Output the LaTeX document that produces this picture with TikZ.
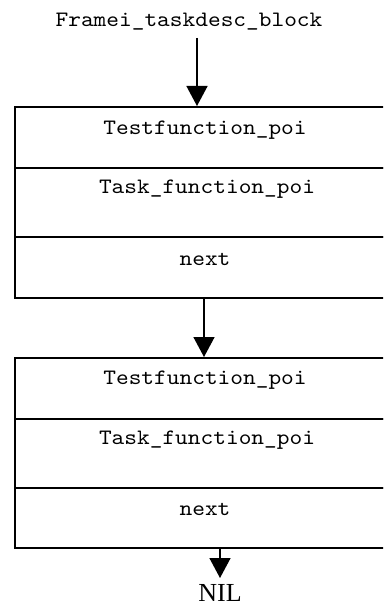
\documentclass[tikz,border=0pt]{standalone}
\usepackage{fontspec}
\setmainfont{Liberation Serif}
\newfontfamily\monofont{lmmono10-regular.otf}[FakeStretch=1.1]
\usetikzlibrary{arrows.meta}
\tikzset{
  cell/.style={draw, line width=1.6pt, minimum width=386pt, inner sep=0pt, anchor=north west},
  lbl/.style={font=\monofont\fontsize{22}{26}\selectfont, inner sep=0pt},
  arr/.style={line width=1.5pt, -{Triangle[length=20pt,width=21pt]}}
}
\begin{document}
\begin{tikzpicture}[x=1pt,y=-1pt]
\useasboundingbox (0,0) rectangle (383,604);
\clip (0,0) rectangle (383,604);
% title
\node[lbl] (t) at (189,22) {Framei\_taskdesc\_block};
% box 1
\node[cell, minimum height=61pt] (b1a) at (14,106) {};
\node[cell, minimum height=69pt] (b1b) at (14,167) {};
\node[cell, minimum height=61pt] (b1c) at (14,236) {};
\node[lbl] (l1a) at (205,130) {Testfunction\_poi};
\node[lbl] (l1b) at (207,189) {Task\_function\_poi};
\node[lbl] (l1c) at (205,259) {next};
% box 2
\node[cell, minimum height=61pt] (b2a) at (14,357) {};
\node[cell, minimum height=69pt] (b2b) at (14,418) {};
\node[cell, minimum height=60pt] (b2c) at (14,487) {};
\node[lbl] (l2a) at (205,380) {Testfunction\_poi};
\node[lbl] (l2b) at (207,440) {Task\_function\_poi};
\node[lbl] (l2c) at (205,509) {next};
% NIL
\node[font=\fontsize{26}{30}\selectfont, inner sep=0pt, anchor=base] (nil) at (220,601) {NIL};
% connectors
\coordinate (a1) at (197,38);
\coordinate (a2) at (204,297);
\coordinate (a3) at (220,547);
\coordinate (a3e) at (220,578);
\draw[arr] (a1) -- (a1 |- b1a.north);
\draw[arr] (a2) -- (a2 |- b2a.north);
\draw[arr] (a3) -- (a3e);
\end{tikzpicture}
\end{document}
